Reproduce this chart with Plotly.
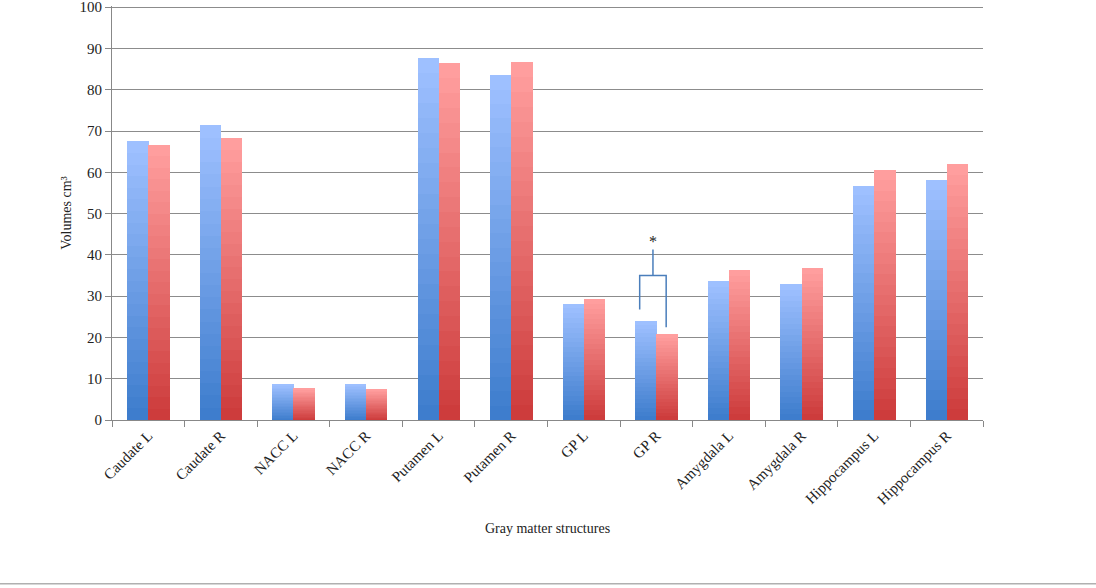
import plotly.graph_objects as go

categories = ["Caudate L", "Caudate R", "NACC L", "NACC R", "Putamen L", "Putamen R",
              "GP L", "GP R", "Amygdala L", "Amygdala R", "Hippocampus L", "Hippocampus R"]
blue_values = [67.5, 71.4, 8.6, 8.8, 87.8, 83.5, 28.2, 24.0, 33.6, 32.9, 56.8, 58.1]
red_values = [66.7, 68.3, 7.6, 7.4, 86.4, 86.7, 29.3, 20.8, 36.4, 36.8, 60.6, 62.0]
y_ticks = [0, 10, 20, 30, 40, 50, 60, 70, 80, 90, 100]

FONT = "Liberation Serif, Times New Roman, serif"
N = 24  # gradient steps (styling only)


def lerp(c1, c2, t):
    return "rgb(%d,%d,%d)" % tuple(round(a + (b - a) * t) for a, b in zip(c1, c2))


blue_top, blue_bot = (158, 192, 255), (62, 125, 205)
red_top, red_bot = (255, 158, 158), (205, 60, 60)

fig = go.Figure()
for values, top, bot, off in [(blue_values, blue_top, blue_bot, -0.29),
                              (red_values, red_top, red_bot, 0.0)]:
    for i in range(N):
        t = i / (N - 1)
        fig.add_trace(go.Bar(
            x=categories,
            y=[v / N for v in values],
            base=[v * i / N for v in values],
            offset=off, width=0.295,
            marker=dict(color=lerp(bot, top, t), line=dict(width=0)),
            showlegend=False, hoverinfo="skip",
        ))

# significance bracket over GP R
gi = categories.index("GP R")
bcol = "#4a7ebb"
fig.add_shape(type="path", xref="x", yref="y",
              path=f"M {gi-0.23},26.8 L {gi-0.23},35 L {gi+0.135},35 L {gi+0.135},22.5",
              line=dict(color=bcol, width=1.5))
fig.add_shape(type="line", xref="x", yref="y", x0=gi - 0.047, x1=gi - 0.047, y0=35, y1=41.3,
              line=dict(color=bcol, width=1.5))
fig.add_annotation(x=gi - 0.047, y=43.3, xref="x", yref="y", text="*", showarrow=False,
                   font=dict(family=FONT, size=16, color="#222"))

TOP = 0
PH = 588 - TOP - 168
# bottom rule
fig.add_shape(type="line", xref="paper", yref="paper", x0=-112 / 871, x1=984 / 871,
              y0=-166 / PH, y1=-166 / PH, line=dict(color="#b0b0b0", width=1.5))

fig.update_layout(
    width=1096, height=588,
    margin=dict(l=112, r=113, t=TOP, b=168, pad=0),
    barmode="overlay",
    bargap=0,
    plot_bgcolor="white", paper_bgcolor="white",
    font=dict(family=FONT, size=14, color="#222"),
    xaxis=dict(
        type="category",
        tickangle=-45,
        tickson="boundaries",
        ticks="outside", ticklen=6, tickcolor="#888",
        showline=True, linecolor="#888", linewidth=1,
        showgrid=False,
        tickfont=dict(family=FONT, size=15, color="#222"),
        title=dict(text="Gray matter structures", standoff=16,
                   font=dict(family=FONT, size=14, color="#222")),
        range=[-0.5, len(categories) - 0.5],
    ),
    yaxis=dict(
        range=[0, 100.3],
        tickvals=y_ticks,
        ticklabeloverflow="allow",
        ticks="outside", ticklen=6, tickcolor="#888",
        showline=True, linecolor="#888", linewidth=1,
        showgrid=True, gridcolor="#8c8c8c", gridwidth=1,
        zeroline=False, mirror=False,
        tickfont=dict(family=FONT, size=15, color="#222"),
        title=dict(text="Volumes cm³", standoff=4,
                   font=dict(family=FONT, size=14, color="#222")),
    ),
)

fig.write_html("out.html")
